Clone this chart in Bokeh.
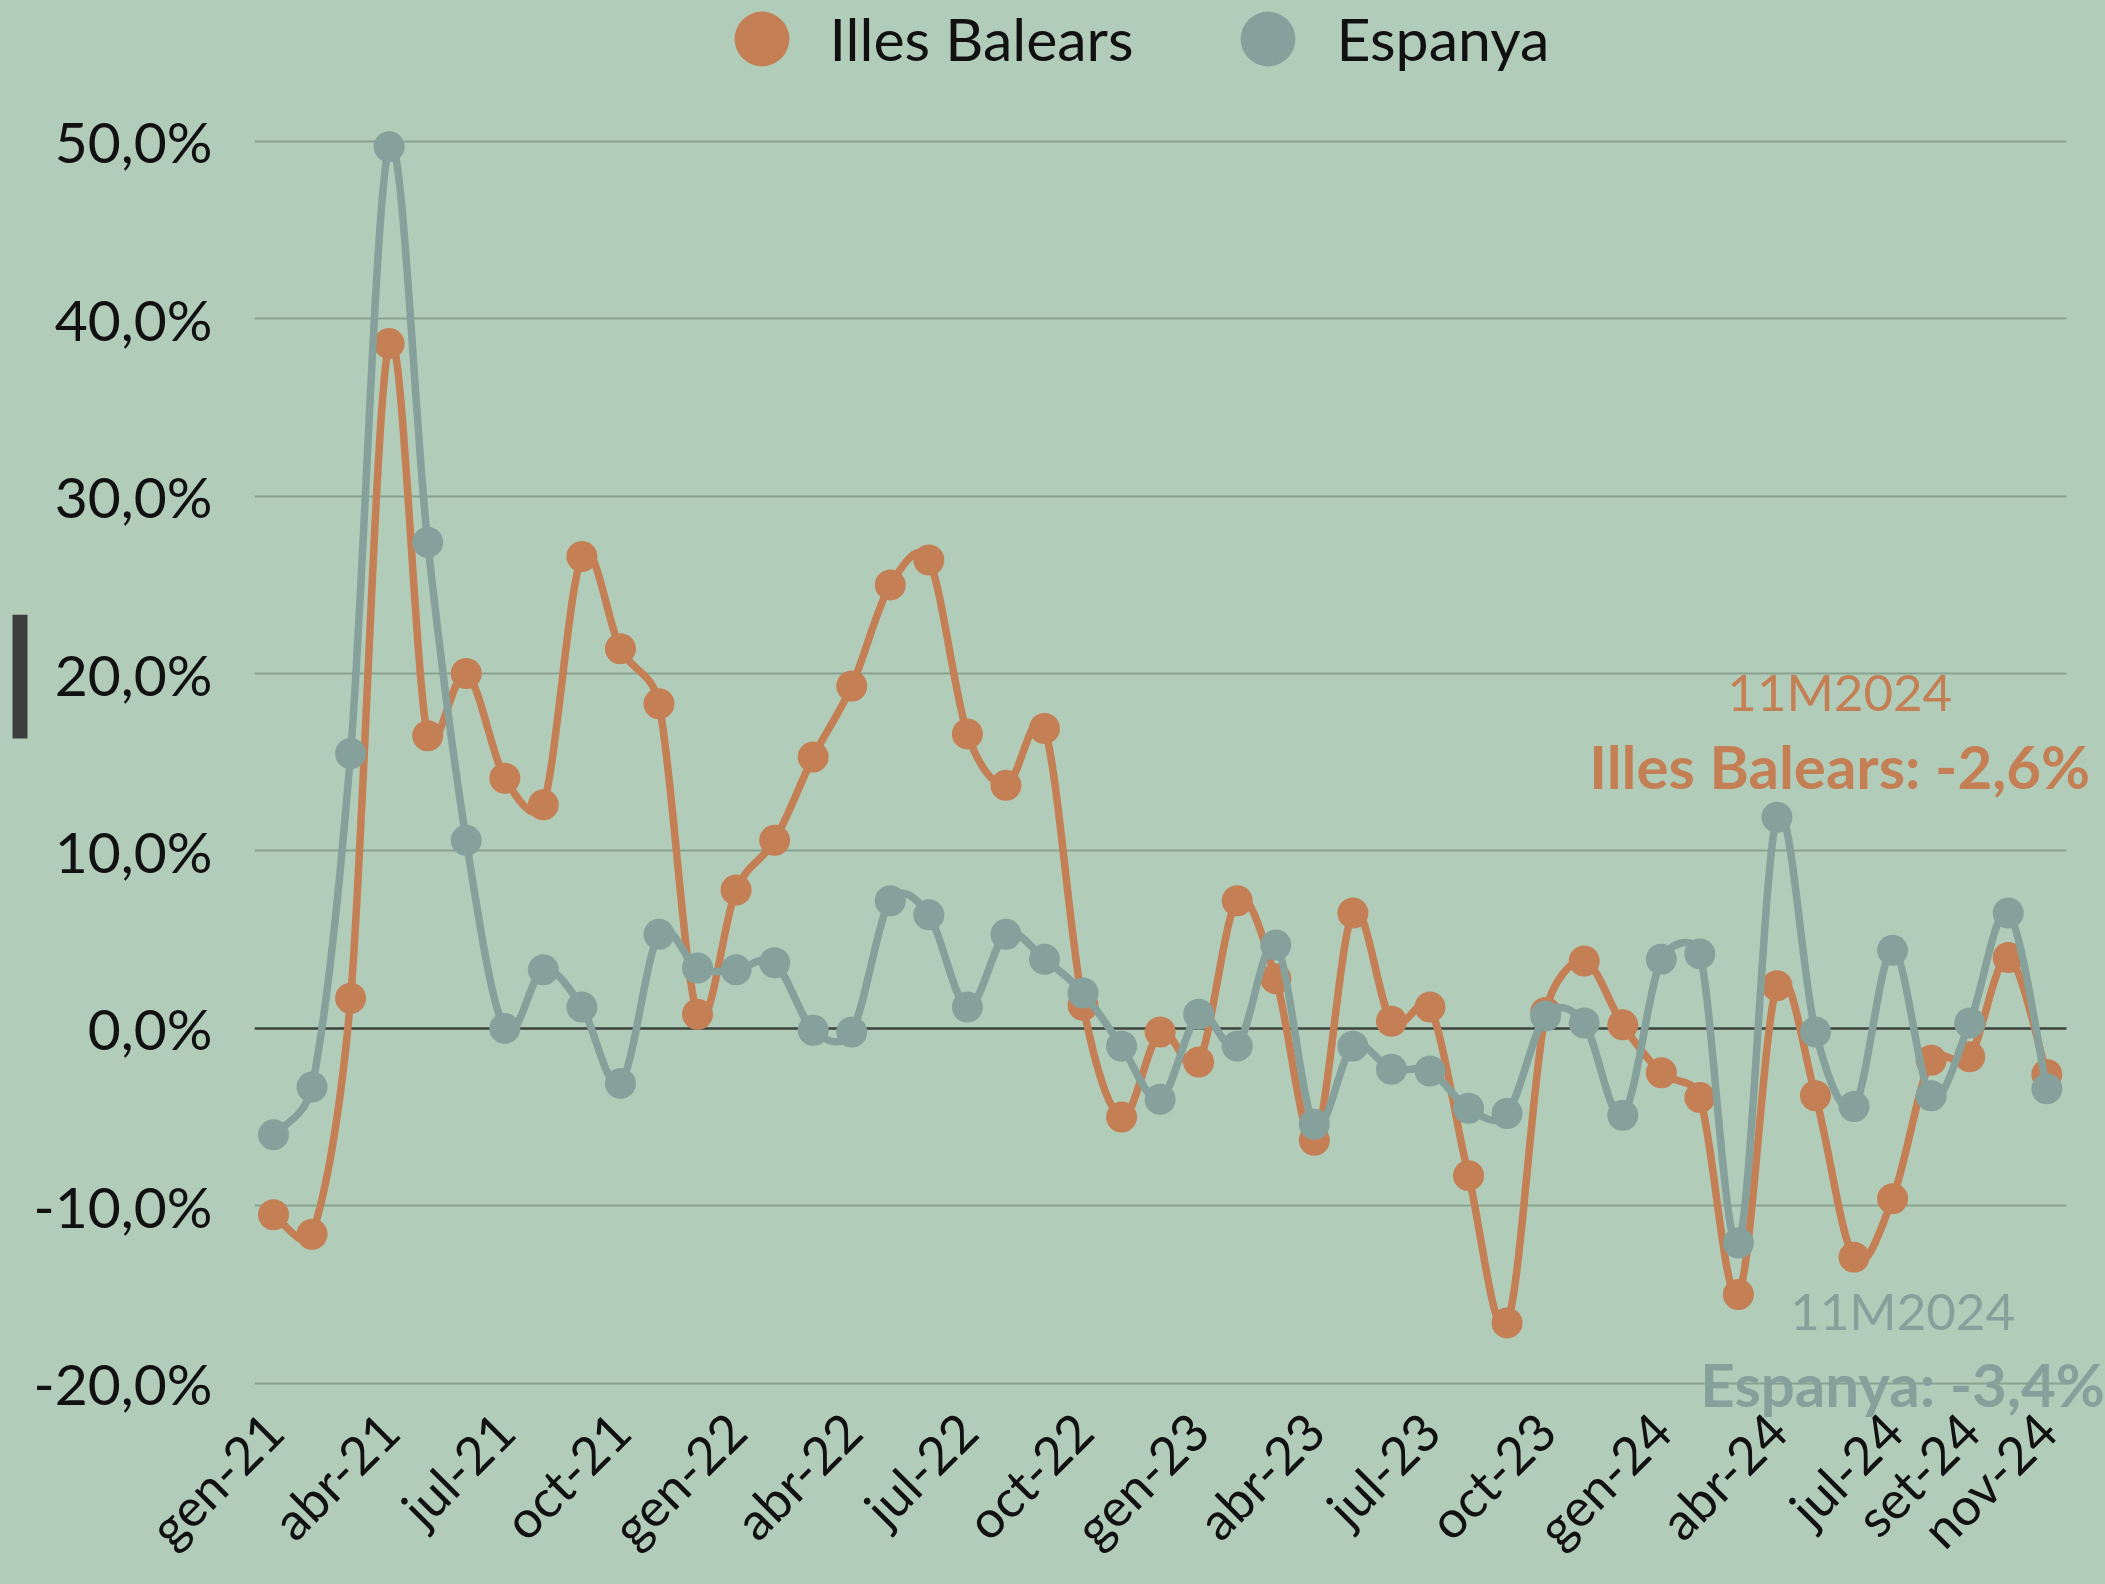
import math
import numpy as np
from bokeh.plotting import figure
from bokeh.layouts import row
from bokeh.models import (FixedTicker, Legend, LegendItem, Label, BoxAnnotation,
                          Range1d, Span)
from bokeh.embed import file_html
from bokeh.resources import INLINE

# ---------------- data ----------------
months = ["gen-21", "feb-21", "mar-21", "abr-21", "mai-21", "jun-21", "jul-21", "ago-21", "set-21", "oct-21", "nov-21", "des-21",
          "gen-22", "feb-22", "mar-22", "abr-22", "mai-22", "jun-22", "jul-22", "ago-22", "set-22", "oct-22", "nov-22", "des-22",
          "gen-23", "feb-23", "mar-23", "abr-23", "mai-23", "jun-23", "jul-23", "ago-23", "set-23", "oct-23", "nov-23", "des-23",
          "gen-24", "feb-24", "mar-24", "abr-24", "mai-24", "jun-24", "jul-24", "ago-24", "set-24", "oct-24", "nov-24"]

illes_balears = [-10.5, -11.6, 1.7, 38.6, 16.5, 20.0, 14.1, 12.6, 26.6, 21.4, 18.3, 0.8,
                 7.8, 10.6, 15.3, 19.3, 25.0, 26.4, 16.6, 13.7, 16.9, 1.3, -5.0, -0.2,
                 -1.9, 7.2, 2.8, -6.3, 6.5, 0.4, 1.2, -8.3, -16.6, 0.9, 3.8, 0.2,
                 -2.5, -3.9, -15.0, 2.4, -3.8, -12.9, -9.6, -1.8, -1.6, 4.0, -2.6]

espanya = [-6.0, -3.3, 15.5, 49.7, 27.4, 10.6, 0.0, 3.3, 1.2, -3.1, 5.3, 3.4,
           3.3, 3.7, -0.1, -0.2, 7.2, 6.4, 1.2, 5.3, 3.9, 2.0, -1.0, -4.0,
           0.8, -1.0, 4.7, -5.4, -1.0, -2.3, -2.4, -4.5, -4.8, 0.7, 0.3, -4.9,
           3.9, 4.2, -12.1, 11.9, -0.2, -4.4, 4.4, -3.8, 0.3, 6.5, -3.4]

x_tick_labels = ["gen-21", "abr-21", "jul-21", "oct-21", "gen-22", "abr-22", "jul-22", "oct-22",
                 "gen-23", "abr-23", "jul-23", "oct-23", "gen-24", "abr-24", "jul-24", "set-24", "nov-24"]

y_ticks = [-20, -10, 0, 10, 20, 30, 40, 50]
y_tick_labels = ["-20,0%", "-10,0%", "0,0%", "10,0%", "20,0%", "30,0%", "40,0%", "50,0%"]

series_names = ["Illes Balears", "Espanya"]
last_period = "11M2024"
last_values = ["-2,6%", "-3,4%"]

# ---------------- style ----------------
BG = "#b2ccba"
ORANGE = "#c47f55"
GRAY = "#86a09b"
GRID = "#8aa290"
ZERO = "#3f4741"
TEXT = "#111111"
FONT = "Lato"

PAGE_W, PAGE_H = 2105, 1584
BAR_W = 30                       # narrow strip on the left holding the dark marker bar
W, H = PAGE_W - BAR_W, PAGE_H
FRAME_LEFT, FRAME_RIGHT_BORDER = 253 - BAR_W, 0
FRAME_TOP, FRAME_BOTTOM_BORDER = 0, 159
X0, X1 = -0.4926, 47.523
Y0, Y1 = -22.158, 57.94
GRID_END = 46.51                 # gridlines stop here (x, in month index units)
FRAME_W = W - FRAME_LEFT - FRAME_RIGHT_BORDER
FRAME_H = H - FRAME_TOP - FRAME_BOTTOM_BORDER
PX_X = FRAME_W / (X1 - X0)
PX_Y = FRAME_H / (Y1 - Y0)

x = list(range(len(months)))


def smooth_segments(xs, ys):
    """Bezier control points of a smoothed line (Excel-like: 1/6 tangents capped at half the segment)."""
    P = np.column_stack([np.asarray(xs, float) * PX_X, np.asarray(ys, float) * PX_Y])
    Pp = np.vstack([P[0], P, P[-1]])
    c1s, c2s = [], []
    for k in range(len(P) - 1):
        p0, p1, p2, p3 = Pp[k], Pp[k + 1], Pp[k + 2], Pp[k + 3]
        half = np.linalg.norm(p2 - p1) / 2.0
        t1 = (p2 - p0) / 6.0
        t2 = (p3 - p1) / 6.0
        n1, n2 = np.linalg.norm(t1), np.linalg.norm(t2)
        if n1 > half and n1 > 0:
            t1 = t1 * half / n1
        if n2 > half and n2 > 0:
            t2 = t2 * half / n2
        c1s.append(p1 + t1)
        c2s.append(p2 - t2)
    c1s, c2s = np.array(c1s), np.array(c2s)
    return dict(x0=P[:-1, 0] / PX_X, y0=P[:-1, 1] / PX_Y, x1=P[1:, 0] / PX_X, y1=P[1:, 1] / PX_Y,
                cx0=c1s[:, 0] / PX_X, cy0=c1s[:, 1] / PX_Y, cx1=c2s[:, 0] / PX_X, cy1=c2s[:, 1] / PX_Y)


p = figure(width=W, height=H,
           x_range=Range1d(X0, X1), y_range=Range1d(Y0, Y1),
           output_backend="svg", toolbar_location=None,
           min_border_left=FRAME_LEFT, min_border_right=FRAME_RIGHT_BORDER,
           min_border_top=FRAME_TOP, min_border_bottom=FRAME_BOTTOM_BORDER,
           background_fill_color=None, border_fill_color=None, outline_line_color=None)

# grid
p.xgrid.visible = False
p.ygrid.ticker = FixedTicker(ticks=y_ticks)
p.ygrid.grid_line_color = GRID
p.ygrid.grid_line_width = 2
p.add_layout(Span(location=0, dimension="width", line_color=ZERO, line_width=2.5, level="underlay"))
# gridlines end a little before the right edge of the drawing area
p.add_layout(BoxAnnotation(left=GRID_END, right=X1, fill_color=BG, fill_alpha=1,
                           line_color=None, level="underlay"))

# axes
p.yaxis.ticker = FixedTicker(ticks=y_ticks)
p.yaxis.major_label_overrides = {t: l for t, l in zip(y_ticks, y_tick_labels)}
p.yaxis.major_label_text_font = FONT
p.yaxis.major_label_text_font_size = "57px"
p.yaxis.major_label_text_color = TEXT
p.yaxis.major_label_standoff = 42

x_tick_pos = [months.index(m) for m in x_tick_labels]
p.xaxis.ticker = FixedTicker(ticks=x_tick_pos)
p.xaxis.major_label_overrides = {t: l for t, l in zip(x_tick_pos, x_tick_labels)}
p.xaxis.major_label_orientation = math.pi / 4
p.xaxis.major_label_text_font = FONT
p.xaxis.major_label_text_font_size = "52px"
p.xaxis.major_label_text_color = TEXT
p.xaxis.major_label_standoff = 0

for ax in (p.xaxis, p.yaxis):
    ax.axis_line_color = None
    ax.major_tick_line_color = None
    ax.minor_tick_line_color = None
    ax.major_tick_out = 0
    ax.major_tick_in = 0

# series
scatters = []
for vals, col in ((illes_balears, ORANGE), (espanya, GRAY)):
    seg = smooth_segments(x, vals)
    p.bezier(x0=seg["x0"], y0=seg["y0"], x1=seg["x1"], y1=seg["y1"],
             cx0=seg["cx0"], cy0=seg["cy0"], cx1=seg["cx1"], cy1=seg["cy1"],
             line_color=col, line_width=7.5, line_cap="round")
    s = p.scatter(x, vals, size=31, fill_color=col, line_color=None)
    scatters.append(s)

# legend (top centre)
G = 137
legend = Legend(items=[LegendItem(label=n, renderers=[r]) for n, r in zip(series_names, scatters)],
                orientation="horizontal",
                location=(691.5 - 253, FRAME_H - G - (42 - G / 2)),
                glyph_width=G, glyph_height=G, label_standoff=0, spacing=66,
                padding=0, margin=0, border_line_color=None, background_fill_alpha=0,
                label_text_font=FONT, label_text_font_size="59px", label_text_color=TEXT)
p.add_layout(legend)

# end-of-series annotations
ann = [
    (40.63, 18.99, last_period, "51px", "normal", ORANGE),
    (40.63, 14.77, f"{series_names[0]}: {last_values[0]}", "60px", "bold", ORANGE),
    (42.26, -15.90, last_period, "51px", "normal", GRAY),
    (42.26, -20.03, f"{series_names[1]}: {last_values[1]}", "60px", "bold", GRAY),
]
for ax_, ay_, txt, fs, style, col in ann:
    p.add_layout(Label(x=ax_, y=ay_, text=txt, text_align="center", text_baseline="alphabetic",
                       text_font=FONT, text_font_size=fs, text_font_style=style, text_color=col,
                       level="overlay"))

# narrow strip at the left with the small dark bar (its frame is aligned with the main frame)
strip = figure(width=BAR_W, height=H, x_range=Range1d(0, BAR_W), y_range=Range1d(FRAME_H, 0),
               output_backend="svg", toolbar_location=None,
               min_border_left=0, min_border_right=0, min_border_top=0, min_border_bottom=0,
               background_fill_color=None, border_fill_color=None, outline_line_color=None)
strip.axis.visible = False
strip.grid.visible = False
strip.add_layout(BoxAnnotation(left=12, right=27, top=616, bottom=740,
                               fill_color="#3d3d3d", fill_alpha=1, line_color=None))

layout = row(strip, p, styles={"background-color": BG})
open("out.html", "w").write(file_html(layout, INLINE))
